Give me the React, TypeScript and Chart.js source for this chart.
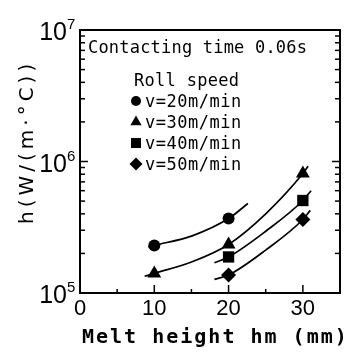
import React, { useEffect, useRef } from 'react';
import { Chart, registerables } from 'chart.js';

Chart.register(...registerables);

// Axis ticks
const xTickValues = [0, 10, 20, 30];
const xMinorTicks = [5, 15, 25];
const yDecades = [1e5, 1e6, 1e7];
const yExponents = ['5', '6', '7'];

// Measured heat transfer coefficient h (W/(m·°C)) vs melt height (mm)
const v20X = [10, 20];
const v20Y = [2.3e5, 3.68e5];
const v30X = [10, 20, 30];
const v30Y = [1.41e5, 2.34e5, 8.1e5];
const v40X = [20, 30];
const v40Y = [1.88e5, 5.05e5];
const v50X = [20, 30];
const v50Y = [1.37e5, 3.62e5];

// Fitted trend curves
const v20CurveX = [9.2, 10, 15.1, 20, 22.6];
const v20CurveY = [2.24e5, 2.3e5, 2.72e5, 3.68e5, 4.79e5];
const v30CurveX = [8.7, 10, 15.1, 20, 25, 30, 30.7];
const v30CurveY = [1.34e5, 1.41e5, 1.73e5, 2.34e5, 4.0e5, 8.1e5, 9.2e5];
const v40CurveX = [18.1, 20, 25, 30, 31.1];
const v40CurveY = [1.7e5, 1.88e5, 2.95e5, 5.05e5, 6.0e5];
const v50CurveX = [18.1, 20, 25, 30, 31.0];
const v50CurveY = [1.27e5, 1.37e5, 2.12e5, 3.62e5, 4.25e5];

const legendLabels = ['v=20m/min', 'v=30m/min', 'v=40m/min', 'v=50m/min'];
const markerStyles = ['circle', 'triangle', 'rect', 'rectRot'];

const noteText = 'Contacting time 0.06s';
const legendTitle = 'Roll speed';
const xTitle = 'Melt height hm (mm)';
const yTitle = 'h(W/(m·°C))';

const pts = (xs: number[], ys: number[]) => xs.map((x, i) => ({ x, y: ys[i] }));

function drawMarker(ctx: CanvasRenderingContext2D, style: string, cx: number, cy: number) {
  ctx.beginPath();
  if (style === 'circle') {
    ctx.arc(cx, cy, 5, 0, Math.PI * 2);
  } else if (style === 'triangle') {
    const r = 6.5;
    ctx.moveTo(cx, cy - r);
    ctx.lineTo(cx + r * 0.866, cy + r / 2);
    ctx.lineTo(cx - r * 0.866, cy + r / 2);
  } else if (style === 'rect') {
    ctx.rect(cx - 5, cy - 5, 10, 10);
  } else {
    const r = 6.5;
    ctx.moveTo(cx, cy - r);
    ctx.lineTo(cx + r, cy);
    ctx.lineTo(cx, cy + r);
    ctx.lineTo(cx - r, cy);
  }
  ctx.closePath();
  ctx.fill();
}

const frame = {
  id: 'frame',
  afterDraw(chart: any) {
    const { ctx, chartArea: a, scales } = chart;
    const xs = scales.x;
    const ys = scales.y;
    ctx.save();
    ctx.strokeStyle = '#000';
    ctx.fillStyle = '#000';

    // box
    ctx.lineWidth = 2;
    ctx.strokeRect(a.left, a.top, a.right - a.left, a.bottom - a.top);

    const seg = (x1: number, y1: number, x2: number, y2: number) => {
      ctx.beginPath();
      ctx.moveTo(x1, y1);
      ctx.lineTo(x2, y2);
      ctx.stroke();
    };

    // inward log ticks on left and right
    ctx.lineWidth = 1.5;
    for (let d = 0; d < yDecades.length - 1; d++) {
      for (let m = 1; m < 10; m++) {
        const py = ys.getPixelForValue(yDecades[d] * m);
        const len = m === 1 ? 8 : 5;
        seg(a.left, py, a.left + len, py);
        seg(a.right, py, a.right - len, py);
      }
    }
    // inward x ticks
    xTickValues.forEach((v) => {
      const px = xs.getPixelForValue(v);
      seg(px, a.bottom, px, a.bottom - 8);
    });
    xMinorTicks.forEach((v) => {
      const px = xs.getPixelForValue(v);
      seg(px, a.bottom, px, a.bottom - 4);
    });

    // y tick labels: 10 with superscript exponent
    yDecades.forEach((v, i) => {
      const py = ys.getPixelForValue(v);
      ctx.font = '25px "Liberation Sans"';
      ctx.textAlign = 'right';
      ctx.textBaseline = 'alphabetic';
      ctx.fillText('10', 67, py + 10);
      ctx.font = '15px "Liberation Sans"';
      ctx.textAlign = 'left';
      ctx.fillText(yExponents[i], 67, py - 1);
    });

    // axis titles
    ctx.font = 'bold 20px "DejaVu Sans Mono"';
    (ctx as any).letterSpacing = '2px';
    ctx.textAlign = 'left';
    ctx.textBaseline = 'alphabetic';
    ctx.fillText(xTitle, 82, 343);

    ctx.save();
    ctx.translate(33, 224);
    ctx.rotate(-Math.PI / 2);
    ctx.font = '20px "DejaVu Sans"';
    (ctx as any).letterSpacing = '4px';
    ctx.fillText(yTitle, 0, 0);
    ctx.restore();

    // note and legend
    ctx.font = '17px "DejaVu Sans Mono"';
    (ctx as any).letterSpacing = '0.2px';
    ctx.fillText(noteText, 88, 53);
    (ctx as any).letterSpacing = '0.3px';
    ctx.fillText(legendTitle, 134, 86);
    (ctx as any).letterSpacing = '0.5px';
    legendLabels.forEach((label, i) => {
      const base = 107 + i * 21;
      drawMarker(ctx, markerStyles[i], 136, base - 6);
      ctx.fillText(label, 145, base);
    });
    ctx.restore();
  },
};

export default function App() {
  const canvasRef = useRef<HTMLCanvasElement | null>(null);

  useEffect(() => {
    document.body.style.margin = '0';
    const canvas = canvasRef.current;
    if (!canvas) return;

    const marker = (data: any[], style: string, radius: number) => ({
      data,
      showLine: false,
      pointStyle: style,
      pointRadius: radius,
      pointHoverRadius: radius,
      pointBackgroundColor: '#000',
      pointBorderColor: '#000',
      pointBorderWidth: 0,
      borderColor: '#000',
    });
    const curve = (data: any[]) => ({
      data,
      showLine: true,
      pointRadius: 0,
      borderColor: '#000',
      borderWidth: 1.7,
      cubicInterpolationMode: 'monotone',
      fill: false,
    });

    const chart = new Chart(canvas, {
      type: 'line',
      data: {
        datasets: [
          marker(pts(v20X, v20Y), 'circle', 6),
          marker(pts(v30X, v30Y), 'triangle', 8),
          marker(pts(v40X, v40Y), 'rect', 8),
          marker(pts(v50X, v50Y), 'rectRot', 7.5),
          curve(pts(v20CurveX, v20CurveY)),
          curve(pts(v30CurveX, v30CurveY)),
          curve(pts(v40CurveX, v40CurveY)),
          curve(pts(v50CurveX, v50CurveY)),
        ] as any,
      },
      options: {
        responsive: false,
        animation: false,
        devicePixelRatio: 1,
        layout: { padding: { top: 30, right: 3, left: 0, bottom: 0 } },
        plugins: { legend: { display: false }, tooltip: { enabled: false } },
        scales: {
          x: {
            type: 'linear',
            min: 0,
            max: 35,
            grid: { display: false, drawTicks: false },
            border: { display: false },
            afterBuildTicks: (s: any) => {
              s.ticks = xTickValues.map((value) => ({ value }));
            },
            afterFit: (s: any) => {
              s.height = 60;
            },
            ticks: {
              color: '#000',
              padding: 3,
              maxRotation: 0,
              font: { family: 'Liberation Sans', size: 22 },
            },
          },
          y: {
            type: 'logarithmic',
            min: 1e5,
            max: 1e7,
            grid: { display: false, drawTicks: false },
            border: { display: false },
            ticks: { display: false },
            afterFit: (s: any) => {
              s.width = 80;
            },
          },
        },
      } as any,
      plugins: [frame],
    });
    return () => chart.destroy();
  }, []);

  return <canvas ref={canvasRef} width={348} height={353} style={{ display: 'block' }} />;
}
